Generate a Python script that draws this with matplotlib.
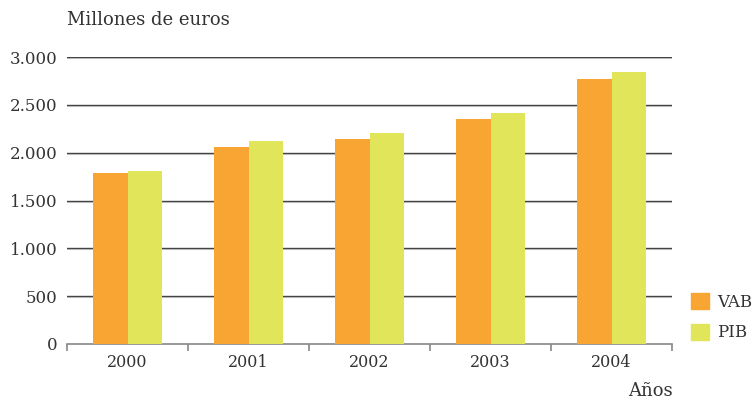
import numpy as np
import matplotlib.pyplot as plt
from matplotlib.patches import Patch

# datos (millones de euros)
anios = ['2000', '2001', '2002', '2003', '2004']
vab = [1788, 2060, 2144, 2354, 2767]
pib = [1809, 2123, 2207, 2418, 2840]

plt.rcParams['font.family'] = 'DejaVu Serif'
txt = '#333333'
fs = 12

fig = plt.figure(figsize=(7.55, 4.0), dpi=100)
ax = fig.add_axes([67 / 755, 1 - 344 / 400, 605 / 755, 287 / 400])

ind = np.arange(len(anios))
width = 0.285
ax.bar(ind - width / 2, vab, width, color='#F9A533', zorder=3)
ax.bar(ind + width / 2, pib, width, color='#E1E55A', zorder=3)

ax.set_xlim(-0.5, len(anios) - 0.5)
ax.set_ylim(0, 3000)

# lineas horizontales con sombra clara
for y in range(500, 3001, 500):
    ax.axhline(y - 12, color='#d5d5d5', lw=0.8, zorder=1)
    ax.axhline(y, color='#444444', lw=1.0, zorder=2)

for s in ['top', 'right', 'left']:
    ax.spines[s].set_visible(False)
ax.spines['bottom'].set_color('#888888')
ax.spines['bottom'].set_linewidth(1.2)

ax.set_yticks(range(0, 3001, 500))
ax.set_yticklabels(['0', '500', '1.000', '1.500', '2.000', '2.500', '3.000'])
ax.tick_params(axis='y', length=0, pad=7, labelsize=fs, labelcolor=txt)

ax.set_xticks(np.arange(-0.5, len(anios)))
ax.set_xticklabels([])
ax.set_xticks(ind, minor=True)
ax.set_xticklabels(anios, minor=True)
ax.tick_params(axis='x', which='major', length=5, color='#888888', width=1.2)
ax.tick_params(axis='x', which='minor', length=0, pad=7, labelsize=11.5, labelcolor=txt)

fig.text(67 / 755, 1 - 20 / 400, 'Millones de euros', fontsize=13, color=txt,
         ha='left', va='center')
fig.text(673 / 755, 1 - 391 / 400, 'Años', fontsize=13, color=txt,
         ha='right', va='center')

handles = [Patch(color='#F9A533', label='VAB'), Patch(color='#E1E55A', label='PIB')]
leg = fig.legend(handles=handles, loc='upper left', bbox_to_anchor=(691 / 755, 1 - 293 / 400),
                 frameon=False, fontsize=fs, handlelength=1.08, handleheight=1.08,
                 handletextpad=0.5, labelspacing=0.8, borderpad=0, borderaxespad=0)
for t in leg.get_texts():
    t.set_color(txt)

plt.savefig('out.png')
